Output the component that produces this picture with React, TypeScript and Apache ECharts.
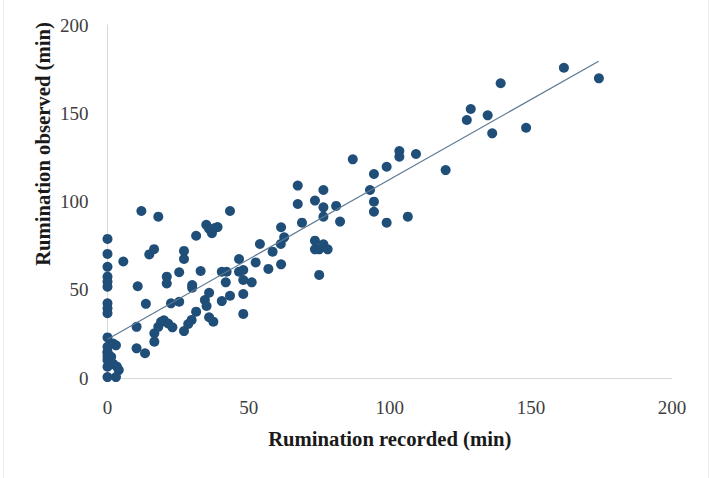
import React, { useEffect, useRef } from "react";
import * as echarts from "echarts";

const xTicks = [0, 50, 100, 150, 200];
const yTicks = [0, 50, 100, 150, 200];

const recorded: number[] = [
  0, 0, 0, 0, 0, 0, 0, 0, 0, 0, 0, 0, 0, 0, 0, 0, 0,
  2, 3, 1.3, 1, 2, 3.3, 4, 3,
  5.6, 10.7, 13.6, 14.8, 16.5, 10.3, 10.3, 13.3, 16.6, 16.6, 18, 19, 20, 21.5, 23,
  12, 18, 21, 21, 22.5, 25.4, 25.4, 27.1, 27.1, 27.1, 28.6, 29.8, 31.4, 30, 30,
  33, 31.4, 35, 36, 37, 38, 39, 34.5, 35.1, 36, 36, 37.5, 40.5, 42.2, 41.9, 40.5,
  43.4, 43.4, 46.6, 46.6, 48.1, 48.1, 51.1, 48.1, 48.1, 52.5, 54, 57, 58.5, 61.5,
  61.5, 61.4, 62.6,
  86.9, 103.4, 103.4, 109.3, 98.9, 94.4, 119.8, 67.4, 76.5, 93, 67.4, 73.5, 76.5,
  81, 76.5, 94.4, 94.4, 68.9, 82.4, 98.9, 106.4, 73.5, 76.5, 73.5, 75, 78, 75,
  161.7, 174.1, 139.3, 128.7, 127.3, 134.7, 136.3, 148.3,
];

const observed: number[] = [
  78.8, 70.3, 63, 57.4, 54.6, 51.7, 42.3, 39.5, 36.7, 23, 17.7, 14, 10.2, 6.4, 0.5, 15, 12,
  19.5, 18.5, 12, 9, 8, 6.5, 4.5, 0.5,
  66, 52, 42, 70, 73, 29, 16.8, 14, 25.3, 20.6, 29, 31.8, 32.7, 30.9, 28.7,
  94.6, 91.4, 57.4, 53.6, 42.3, 43.2, 59.9, 72, 67.4, 26.6, 30.6, 32.9, 37.6, 52.7, 51.2,
  60.6, 80.6, 86.8, 84.5, 82, 85, 85.5, 44.2, 40.8, 48.3, 34.4, 31.9, 60.2, 60.2, 54.2, 43.6,
  46.6, 94.6, 67.4, 60.2, 61.2, 55.5, 54.2, 47.6, 36.3, 65.5, 75.9, 61.8, 71.6, 85.4,
  64.4, 75.9, 79.7,
  123.9, 128.6, 125.4, 126.9, 119.7, 115.6, 117.8, 109, 106.5, 106.5, 98.6, 100.5, 96.7,
  97.5, 91.4, 99.9, 94.2, 88, 88.6, 88, 91.4, 77.8, 75.8, 72.9, 72.9, 72.9, 58.4,
  175.8, 169.8, 167, 152.4, 146.2, 148.8, 138.6, 141.8,
];

const trendIntercept = 22;
const trendSlope = 0.905;
const trendRange = [0, 174];

const xTitle = "Rumination recorded (min)";
const yTitle = "Rumination observed (min)";

const FONT = "'Liberation Serif', 'DejaVu Serif', serif";

export default function App() {
  const ref = useRef<HTMLDivElement>(null);
  useEffect(() => {
    if (!ref.current) return;
    const chart = echarts.init(ref.current, undefined, { renderer: "svg" });
    const points = recorded.map((x, i) => [x, observed[i]]);
    const trend = trendRange.map((x) => [x, trendIntercept + trendSlope * x]);
    chart.setOption({
      animation: false,
      backgroundColor: "#ffffff",
      grid: { left: 107.5, right: 40, top: 25, bottom: 100, containLabel: false },
      xAxis: {
        type: "value",
        min: xTicks[0],
        max: xTicks[xTicks.length - 1],
        interval: xTicks[1] - xTicks[0],
        name: xTitle,
        nameLocation: "middle",
        nameGap: 50,
        nameTextStyle: { fontFamily: FONT, fontWeight: "bold", fontSize: 20.7, color: "#1a1a1a" },
        axisLine: { show: true, lineStyle: { color: "#d9d9d9", width: 1 } },
        axisTick: { show: false },
        splitLine: { show: false },
        axisLabel: { fontFamily: FONT, fontSize: 19, color: "#404040", margin: 20 },
      },
      yAxis: {
        type: "value",
        min: yTicks[0],
        max: yTicks[yTicks.length - 1],
        interval: yTicks[1] - yTicks[0],
        axisLine: { show: true, lineStyle: { color: "#d9d9d9", width: 1 } },
        axisTick: { show: false },
        splitLine: { show: false },
        axisLabel: { fontFamily: FONT, fontSize: 19, color: "#404040", margin: 19 },
      },
      graphic: [
        { type: "line", shape: { x1: 3.5, y1: 0, x2: 3.5, y2: 478 }, style: { stroke: "#ebebeb", lineWidth: 1 } },
        { type: "line", shape: { x1: 708.5, y1: 0, x2: 708.5, y2: 478 }, style: { stroke: "#ebebeb", lineWidth: 1 } },
        {
          type: "text",
          x: 43,
          y: 144,
          rotation: Math.PI / 2,
          style: {
            text: yTitle,
            fontFamily: FONT,
            fontWeight: "bold",
            fontSize: 20.7,
            fill: "#1a1a1a",
            align: "center",
            verticalAlign: "middle",
          },
        },
      ],
      series: [
        {
          type: "scatter",
          data: points,
          symbol: "circle",
          symbolSize: 10,
          itemStyle: { color: "#1f4e79", opacity: 1 },
          z: 2,
        },
        {
          type: "line",
          data: trend,
          showSymbol: false,
          symbol: "none",
          lineStyle: { color: "#5d7893", width: 1.2 },
          z: 3,
        },
      ],
    });
    return () => chart.dispose();
  }, []);
  return (
    <div
      ref={ref}
      style={{ position: "fixed", left: 0, top: 0, width: 712, height: 478, background: "#fff" }}
    />
  );
}
